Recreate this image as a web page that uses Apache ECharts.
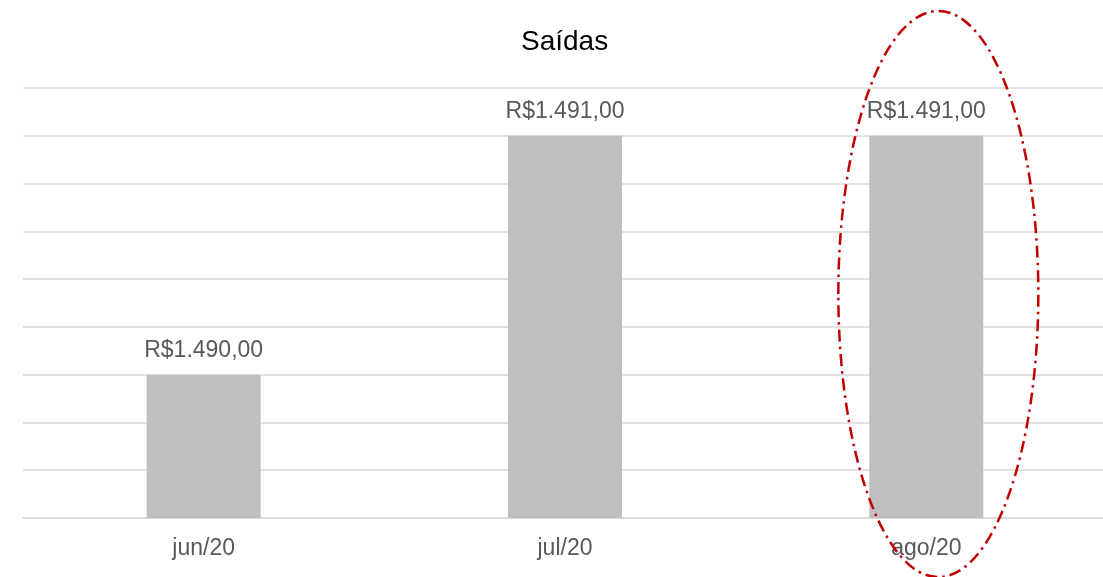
<!DOCTYPE html>
<html>
<head>
<meta charset="utf-8">
<script src="https://cdn.jsdelivr.net/npm/echarts@6/dist/echarts.min.js"></script>
<style>
    html, body { margin: 0; padding: 0; background: #fff; }
    #chart { width: 1103px; height: 577px; }
</style>
</head>
<body>
<div id="chart"></div>
<script>
    // dados
    const categorias = ['jun/20', 'jul/20', 'ago/20'];
    const saidas = [1490, 1491, 1491];
    const destaque = 'ago/20';

    const myChart = echarts.init(document.getElementById('chart'));

    const formatBRL = function (v) {
        let parts = v.toFixed(2).split('.');
        let inteiro = parts[0].replace(/\B(?=(\d{3})+(?!\d))/g, '.');
        return 'R$' + inteiro + ',' + parts[1];
    };

    const option = {
        animation: false,
        title: {
            text: 'Saídas',
            left: 516,
            top: 23,
            textStyle: {
                color: '#000',
                fontSize: 28,
                fontWeight: 'normal',
                fontFamily: 'Liberation Sans'
            }
        },
        grid: {
            left: 23,
            right: -4,
            top: 88,
            bottom: 59,
            outerBoundsMode: 'none'
        },
        xAxis: {
            type: 'category',
            data: categorias,
            axisLine: { lineStyle: { color: '#d9d9d9', width: 1.5 } },
            axisTick: { show: false },
            axisLabel: {
                color: '#595959',
                fontSize: 23,
                fontFamily: 'Liberation Sans',
                margin: 19
            }
        },
        yAxis: {
            type: 'value',
            min: 1489.4,
            max: 1491.2,
            interval: 0.2,
            axisLabel: { show: false },
            axisLine: { show: false },
            axisTick: { show: false },
            splitLine: { lineStyle: { color: '#d9d9d9', width: 1.5 } }
        },
        series: [
            {
                type: 'bar',
                data: saidas,
                barWidth: 114,
                itemStyle: { color: '#bfbfbf' },
                label: {
                    show: true,
                    position: 'top',
                    distance: 13,
                    color: '#595959',
                    fontSize: 23,
                    fontFamily: 'Liberation Sans',
                    formatter: function (p) { return formatBRL(p.value); }
                }
            }
        ]
    };

    myChart.setOption(option);

    // elipse vermelha de destaque em volta da última barra
    const centro = myChart.convertToPixel({ xAxisIndex: 0 }, destaque);
    myChart.setOption({
        graphic: [
            {
                type: 'ellipse',
                shape: { cx: centro + 12, cy: 294, rx: 100, ry: 283 },
                style: {
                    fill: 'none',
                    stroke: '#c00000',
                    lineWidth: 2.5,
                    lineDash: [12, 5, 2.5, 5]
                },
                z: 100
            }
        ]
    });
</script>
</body>
</html>
